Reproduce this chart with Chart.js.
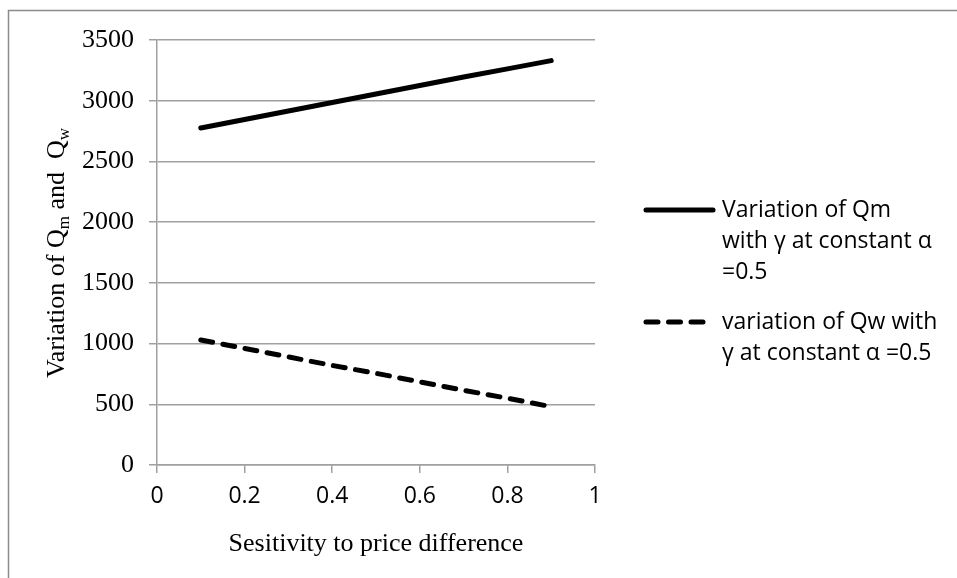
<!DOCTYPE html>
<html lang="en">
<head>
    <meta charset="UTF-8">
    <title>Variation of Qm and Qw</title>
    <script src="https://cdn.jsdelivr.net/npm/chart.js"></script>
    <style>
        html, body { margin: 0; padding: 0; background: #fff; }
        #wrap { width: 957px; height: 578px; }
    </style>
</head>
<body>
    <div id="wrap"><canvas id="qChart" width="957" height="578"></canvas></div>

    <script>
        // sensitivity to price difference (gamma)
        const gammaValues = [0.1, 0.2, 0.3, 0.4, 0.5, 0.6, 0.7, 0.8, 0.9];
        const qmValues = [2775, 2845, 2915, 2985, 3055, 3125, 3195, 3262, 3330];
        const qwValues = [1030, 960, 890, 820, 755, 685, 615, 550, 480];

        const xTicks = [0, 0.2, 0.4, 0.6, 0.8, 1];
        const yTicks = [0, 500, 1000, 1500, 2000, 2500, 3000, 3500];

        const seriesLabels = [
            ['Variation of Qm', 'with \u03b3 at constant \u03b1', '=0.5'],
            ['variation of Qw with', '\u03b3 at constant \u03b1 =0.5']
        ];

        const SERIF = '"Liberation Serif", "Times New Roman", serif';
        const SANS = '"Open Sans", "Noto Sans", sans-serif';
        const GRID = '#a0a0a0';

        function toPoints(xs, ys) {
            return xs.map((x, i) => ({ x: x, y: ys[i] }));
        }

        // frame, axis titles and the wrapped legend on the right
        const decorPlugin = {
            id: 'decor',
            beforeDraw(chart) {
                const ctx = chart.ctx;
                ctx.save();
                ctx.fillStyle = '#fff';
                ctx.fillRect(0, 0, chart.width, chart.height);
                ctx.strokeStyle = '#8c8c8c';
                ctx.lineWidth = 1.5;
                ctx.beginPath();
                ctx.moveTo(8.5, chart.height + 2);
                ctx.lineTo(8.5, 10.5);
                ctx.lineTo(chart.width + 2, 10.5);
                ctx.stroke();
                ctx.restore();
            },
            afterDraw(chart) {
                const ctx = chart.ctx;
                const area = chart.chartArea;
                ctx.save();
                ctx.fillStyle = '#000';

                // x title
                ctx.font = '26px ' + SERIF;
                ctx.textAlign = 'center';
                ctx.textBaseline = 'alphabetic';
                ctx.fillText('Sesitivity to price difference', (area.left + area.right) / 2, 551);

                // y title with subscripts, rotated
                const parts = [
                    { t: 'Variation of Q', sub: false },
                    { t: 'm', sub: true },
                    { t: ' and  Q', sub: false },
                    { t: 'w', sub: true }
                ];
                const mainFont = '26px ' + SERIF;
                const subFont = '17px ' + SERIF;
                let total = 0;
                parts.forEach(p => {
                    ctx.font = p.sub ? subFont : mainFont;
                    p.w = ctx.measureText(p.t).width;
                    total += p.w;
                });
                ctx.translate(64, 253);
                ctx.rotate(-Math.PI / 2);
                ctx.textAlign = 'left';
                let x = -total / 2;
                parts.forEach(p => {
                    ctx.font = p.sub ? subFont : mainFont;
                    ctx.fillText(p.t, x, p.sub ? 5 : 0);
                    x += p.w;
                });
                ctx.setTransform(1, 0, 0, 1, 0, 0);

                // legend
                const rowY = [210, 322];
                ctx.font = '23px ' + SANS;
                ctx.textBaseline = 'middle';
                chart.data.datasets.forEach((ds, i) => {
                    const y = rowY[i];
                    ctx.strokeStyle = ds.borderColor;
                    ctx.lineWidth = ds.borderWidth;
                    ctx.lineCap = 'round';
                    ctx.setLineDash(ds.borderDash || []);
                    ctx.beginPath();
                    ctx.moveTo(646, y);
                    ctx.lineTo(i === 0 ? 713 : 708, y);
                    ctx.stroke();
                    ctx.setLineDash([]);
                    seriesLabels[i].forEach((line, k) => {
                        ctx.fillText(line, 722, y + k * 31);
                    });
                });
                ctx.restore();
            }
        };

        const chartData = {
            datasets: [
                {
                    label: seriesLabels[0].join(' '),
                    data: toPoints(gammaValues, qmValues),
                    borderColor: '#000',
                    borderWidth: 5,
                    borderCapStyle: 'round',
                    pointRadius: 0,
                    tension: 0
                },
                {
                    label: seriesLabels[1].join(' '),
                    data: toPoints(gammaValues, qwValues),
                    borderColor: '#000',
                    borderWidth: 5,
                    borderDash: [12, 10.5],
                    borderCapStyle: 'round',
                    pointRadius: 0,
                    tension: 0
                }
            ]
        };

        const config = {
            type: 'line',
            data: chartData,
            options: {
                responsive: false,
                animation: false,
                devicePixelRatio: 1,
                layout: { padding: { left: 0, top: 40, right: 362, bottom: 0 } },
                plugins: {
                    legend: { display: false },
                    tooltip: { enabled: false }
                },
                scales: {
                    x: {
                        type: 'linear',
                        min: 0,
                        max: 1,
                        afterBuildTicks: (scale) => { scale.ticks = xTicks.map(v => ({ value: v })); },
                        afterFit: (scale) => { scale.height = 113; },
                        ticks: {
                            color: '#000',
                            font: { family: SANS, size: 23 },
                            padding: 10,
                            maxRotation: 0,
                            callback: (v) => String(v)
                        },
                        grid: {
                            drawOnChartArea: false,
                            drawTicks: true,
                            tickLength: 8,
                            color: GRID,
                            lineWidth: 1.5
                        },
                        border: { color: GRID, width: 1.5 }
                    },
                    y: {
                        min: 0,
                        max: 3500,
                        afterBuildTicks: (scale) => { scale.ticks = yTicks.map(v => ({ value: v })); },
                        afterFit: (scale) => { scale.width = 157; },
                        ticks: {
                            color: '#000',
                            font: { family: SERIF, size: 26 },
                            padding: 15,
                            callback: (v) => String(v)
                        },
                        grid: {
                            color: GRID,
                            lineWidth: 1.5,
                            tickLength: 8
                        },
                        border: { color: GRID, width: 1.5 }
                    }
                }
            },
            plugins: [decorPlugin]
        };

        new Chart(document.getElementById('qChart').getContext('2d'), config);
    </script>
</body>
</html>
